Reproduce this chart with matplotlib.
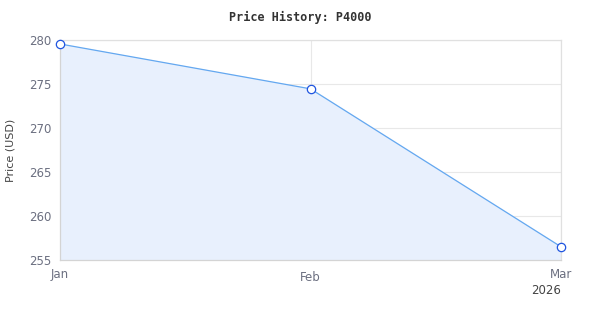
import matplotlib
matplotlib.use("Agg")
import matplotlib.pyplot as plt

months = ["Jan", "Feb", "Mar"]
prices = [279.55, 274.45, 256.5]
year_label = "2026"
y_ticks = [255, 260, 265, 270, 275, 280]
title = "Price History: P4000"

fig = plt.figure(figsize=(6, 3.2), dpi=100)
ax = fig.add_axes([0.1, 0.1875, 0.835, 0.6875])
x = list(range(len(months)))

ax.fill_between(x, prices, 255, color="#e8f0fd", zorder=1)
ax.plot(x, prices, color="#64a8f0", lw=0.9, zorder=3)
ax.plot(x, prices, linestyle="none", marker="o", ms=6, mfc="white",
        mec="#1f55e0", mew=0.9, zorder=4, clip_on=False)

ax.set_xlim(0, 2)
ax.set_ylim(255, 280)
ax.set_yticks(y_ticks)
ax.set_xticks(x)
ax.set_xticklabels(months)
ax.grid(True, color="#e8e8e8", lw=0.8, zorder=0)
ax.set_axisbelow(True)
for side in ["top", "right"]:
    ax.spines[side].set_color("#e0e0e0")
for side in ["left", "bottom"]:
    ax.spines[side].set_color("#d4d4d4")
for s in ax.spines.values():
    s.set_linewidth(0.9)
ax.tick_params(length=0, labelsize=8.5, colors="#6b6f80", pad=6)
for lbl in ax.get_xticklabels():
    lbl.set_color("#6b6f80")
ax.get_xticklabels()[1].set_y(-0.012)

ax.text(2, -0.11, year_label, transform=ax.get_xaxis_transform(),
        ha="right", va="top", fontsize=8.5, color="#444444")
ax.set_ylabel("Price (USD)", fontsize=8, color="#444444", labelpad=10)
fig.text(0.5, 0.945, title, ha="center", va="center", fontsize=8.5,
         fontweight="bold", family="DejaVu Sans Mono", color="#333333")

fig.savefig("out.png", dpi=100)
